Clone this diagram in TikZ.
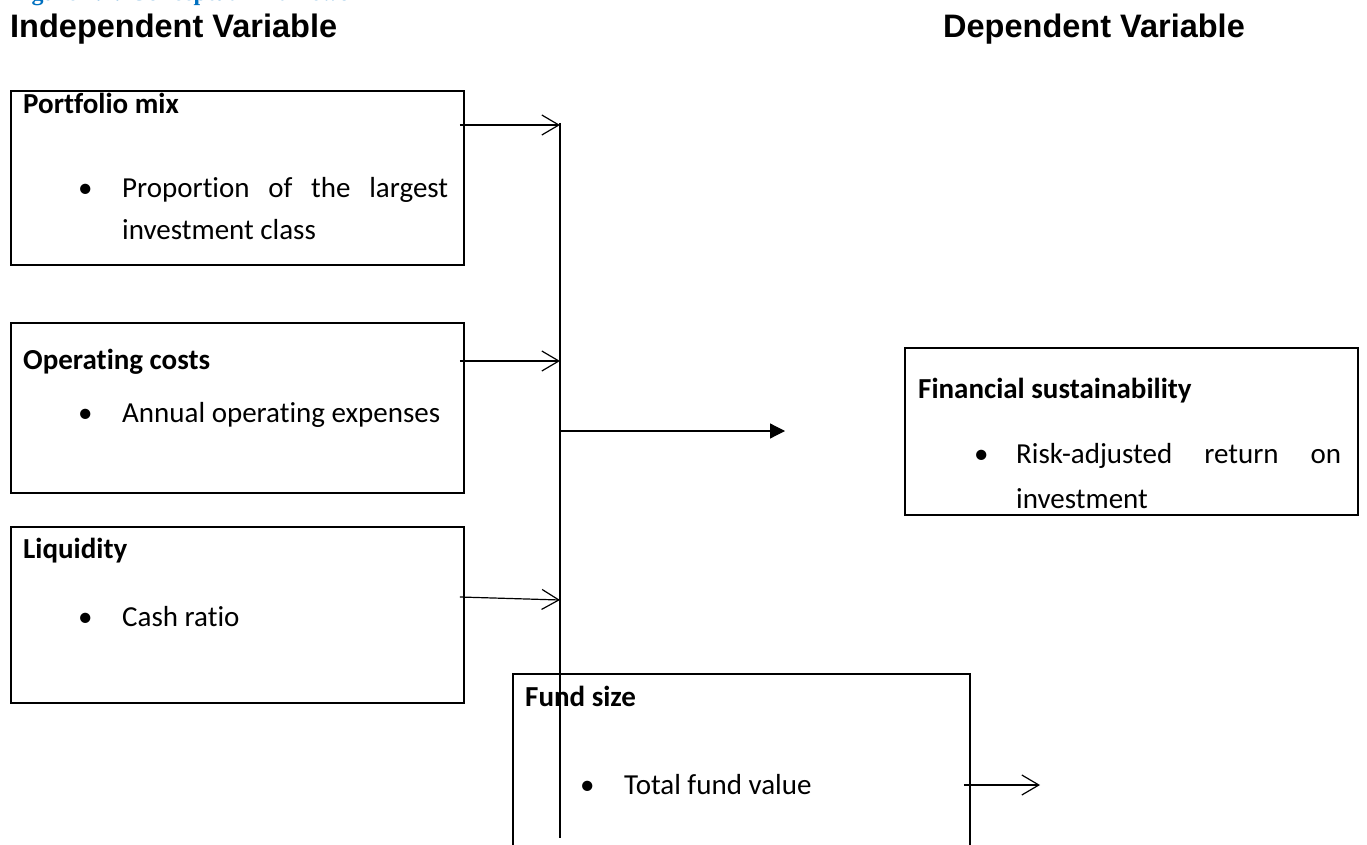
\documentclass[tikz,border=0pt]{standalone}
\usepackage{fontspec}
\setmainfont{Carlito}[Ligatures=NoCommon]
\newfontfamily\headfont{Liberation Sans}
\newfontfamily\capfont{Liberation Serif}
\usetikzlibrary{arrows.meta}
\definecolor{capblue}{RGB}{0,112,192}

\begin{document}
\begin{tikzpicture}[x=1pt,y=-1pt,
	box/.style={draw, line width=1.8pt, minimum width=453pt, anchor=north west, inner sep=0pt},
	ttl/.style={font=\fontsize{29}{35}\selectfont\bfseries, anchor=base west, inner sep=0pt},
	txt/.style={font=\fontsize{29}{35}\selectfont, anchor=base west, inner sep=0pt},
	head/.style={font=\fontsize{32.5}{38}\selectfont\headfont\bfseries, anchor=base west, inner sep=0pt},
	feed/.style={line width=1.2pt, -{Straight Barb[length=17pt,width=20pt,line width=1.2pt]}},
	result/.style={line width=1.2pt, -{Triangle[length=15pt,width=15pt]}}]
	
	\useasboundingbox (0,0) rectangle (1367,845);
	
	% headings
	\node[font=\fontsize{24}{28}\selectfont\capfont\bfseries, text=capblue, anchor=base west, inner sep=0pt] (cap) at (10,1) {Figure 2.1: Conceptual Framework};
	\node[head] (indep) at (10,38) {Independent Variable};
	\node[head] (dep) at (943,38) {Dependent Variable};
	
	% independent variables
	\node[box, minimum height=174pt] (pm) at (10,90) {};
	\node[ttl] (pmT) at (23,114) {Portfolio mix};
	\node[txt] (pmB) at (78,197) {\textbullet};
	\node[txt] (pmL1) at (122,197) {\makebox[326pt][s]{Proportion of the largest}};
	\node[txt] (pmL2) at (122,239) {investment class};
	
	\node[box, minimum height=170pt] (oc) at (10,322) {};
	\node[ttl] (ocT) at (23,369) {Operating costs};
	\node[txt] (ocB) at (78,422) {\textbullet};
	\node[txt] (ocL1) at (122,422) {Annual operating expenses};
	
	\node[box, minimum height=176pt] (lq) at (10,526) {};
	\node[ttl] (lqT) at (23,558) {Liquidity};
	\node[txt] (lqB) at (78,626) {\textbullet};
	\node[txt] (lqL1) at (122,626) {Cash ratio};
	
	\node[box, minimum width=457pt, minimum height=220pt] (fd) at (512,673) {};
	\node[ttl] (fdT) at (525,706) {Fund size};
	\node[txt] (fdB) at (580,794) {\textbullet};
	\node[txt] (fdL1) at (624,794) {Total fund value};
	
	% dependent variable
	\node[box, minimum height=167pt] (fs) at (904,347) {};
	\node[ttl] (fsT) at (918,398) {Financial sustainability};
	\node[txt] (fsB) at (974,463) {\textbullet};
	\node[txt] (fsL1) at (1016,463) {\makebox[325pt][s]{Risk-adjusted return on}};
	\node[txt] (fsL2) at (1016,508) {investment};
	
	% spine and arrows
	\coordinate (spineTop) at (560,123);
	\coordinate (spineBot) at (560,838);
	\coordinate (inPm) at (560,125);
	\coordinate (inOc) at (560,361);
	\coordinate (inLq) at (560,600);
	\coordinate (out) at (560,431);
	\coordinate (outTip) at (785,431);
	\coordinate (fdTip) at (1040,785);
	
	\draw[line width=1.4pt] (spineTop) -- (spineBot);
	\draw[feed] ([xshift=-5pt]pm.east |- inPm) -- (inPm);
	\draw[feed] ([xshift=-5pt]oc.east |- inOc) -- (inOc);
	\draw[feed] ([xshift=-5pt,yshift=3pt]lq.east |- inLq) -- (inLq);
	\draw[result] (out) -- (outTip);
	\draw[feed] ([xshift=-7pt]fd.east |- fdTip) -- (fdTip);
	
\end{tikzpicture}
\end{document}
